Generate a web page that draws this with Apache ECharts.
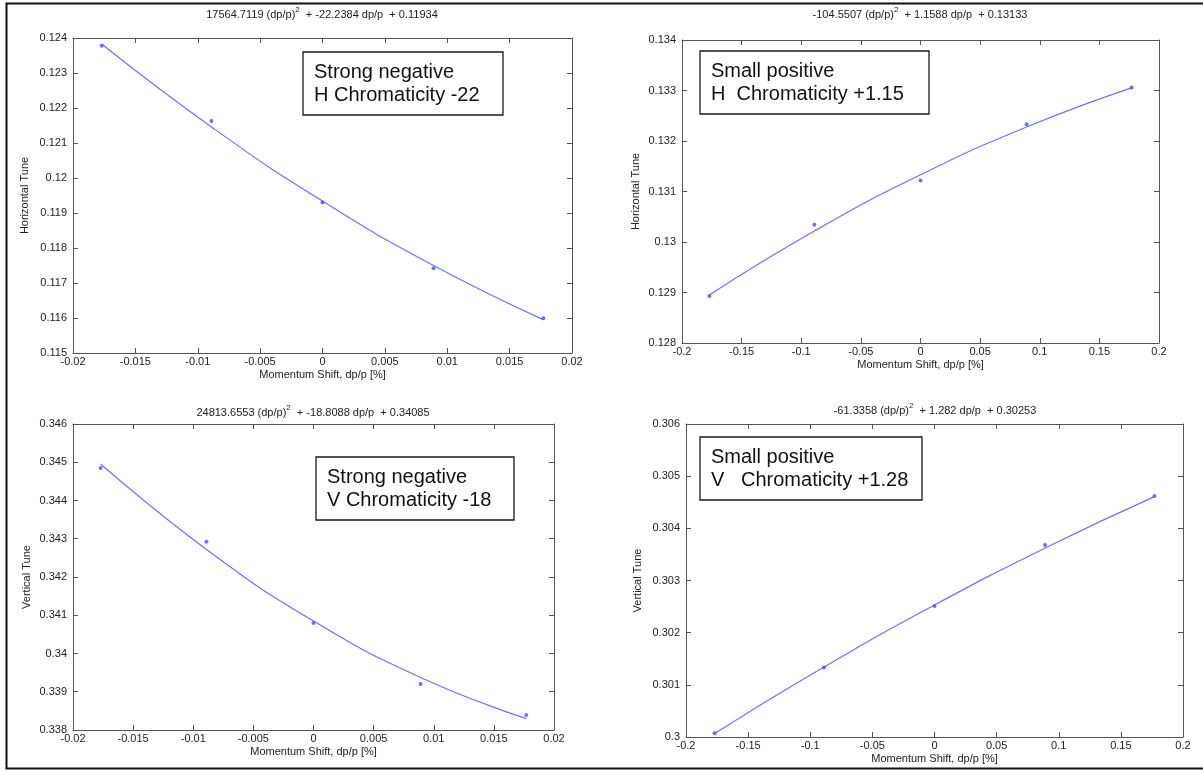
<!DOCTYPE html>
<html>
<head>
<meta charset="utf-8">
<script src="https://cdn.jsdelivr.net/npm/echarts@6/dist/echarts.min.js"></script>
<style>
  html, body { margin: 0; padding: 0; background: #fff; }
  #chart { width: 1203px; height: 771px; }
</style>
</head>
<body>
<div id="chart"></div>
<script>
// Momentum shift samples, dp/p in %
const dpNarrow = [-0.0177, -0.0089, 0, 0.0089, 0.0177];
const dpWide = [-0.177, -0.089, 0, 0.089, 0.177];

// Measured tunes at each momentum shift
const hTuneNeg = [0.12378, 0.12163, 0.11930, 0.11742, 0.11599];
const hTunePos = [0.12893, 0.13034, 0.13122, 0.13233, 0.13306];
const vTuneNeg = [0.34485, 0.34292, 0.34080, 0.33920, 0.33839];
const vTunePos = [0.30007, 0.30133, 0.30251, 0.30368, 0.30462];

// Quadratic fit values at the same momentum shifts
const hFitNeg = [0.123826, 0.121458, 0.11934, 0.117500, 0.115954];
const hFitPos = [0.128951, 0.130216, 0.13133, 0.132278, 0.133053];
const vFitNeg = [0.344956, 0.342721, 0.34085, 0.339373, 0.338298];
const vFitPos = [0.300069, 0.301340, 0.30253, 0.303622, 0.304607];

// Axis ranges: [min, max, step]
const xRangeNarrow = [-0.02, 0.02, 0.005];
const xRangeWide = [-0.2, 0.2, 0.05];
const yRangeHNeg = [0.115, 0.124, 0.001];
const yRangeHPos = [0.128, 0.134, 0.001];
const yRangeVNeg = [0.338, 0.346, 0.001];
const yRangeVPos = [0.300, 0.306, 0.001];

// Fit equations: text before and after the squared term
const fitEquations = [
  ['17564.7119 (dp/p)', '  + -22.2384 dp/p  + 0.11934'],
  ['-104.5507 (dp/p)', '  + 1.1588 dp/p  + 0.13133'],
  ['24813.6553 (dp/p)', '  + -18.8088 dp/p  + 0.34085'],
  ['-61.3358 (dp/p)', '  + 1.282 dp/p  + 0.30253']
];

// Annotation boxes
const notes = [
  'Strong negative\nH Chromaticity -22',
  'Small positive\nH  Chromaticity +1.15',
  'Strong negative\nV Chromaticity -18',
  'Small positive\nV   Chromaticity +1.28'
];

const xName = 'Momentum Shift, dp/p [%]';
const yNames = ['Horizontal Tune', 'Horizontal Tune', 'Vertical Tune', 'Vertical Tune'];

const FONT = '"Liberation Sans", Arial, Helvetica, sans-serif';
const AXIS_COLOR = '#555';
const TEXT_COLOR = '#222';

// Panel geometry (pixels)
const grids = [
  { left: 73, top: 38, width: 499, height: 315 },
  { left: 682, top: 40, width: 477, height: 303 },
  { left: 73, top: 424, width: 481, height: 306 },
  { left: 686, top: 424, width: 497, height: 313 }
];
const yNameGaps = [43, 41, 41, 43];
const titleCenters = [[322, 13], [920, 13], [313, 411], [935, 409]];
const noteBoxes = [
  { x: 303, y: 52, w: 200, h: 63 },
  { x: 700, y: 51, w: 229, h: 63 },
  { x: 316, y: 457, w: 198, h: 63 },
  { x: 700, y: 437, w: 222, h: 63 }
];

const panels = [
  { xs: dpNarrow, meas: hTuneNeg, fit: hFitNeg, xr: xRangeNarrow, yr: yRangeHNeg, xd: 3 },
  { xs: dpWide, meas: hTunePos, fit: hFitPos, xr: xRangeWide, yr: yRangeHPos, xd: 2 },
  { xs: dpNarrow, meas: vTuneNeg, fit: vFitNeg, xr: xRangeNarrow, yr: yRangeVNeg, xd: 3 },
  { xs: dpWide, meas: vTunePos, fit: vFitPos, xr: xRangeWide, yr: yRangeVPos, xd: 2 }
];

function trimNum(v, d) {
  return String(Number(v.toFixed(d)));
}

const option = {
  animation: false,
  backgroundColor: '#fff',
  textStyle: { fontFamily: FONT },
  grid: grids.map(g => Object.assign({ containLabel: false }, g)),
  xAxis: [],
  yAxis: [],
  series: [],
  graphic: []
};

panels.forEach((p, i) => {
  const lineStyle = { color: AXIS_COLOR, width: 1 };
  const baseX = {
    type: 'value', gridIndex: i,
    min: p.xr[0], max: p.xr[1], interval: p.xr[2],
    splitLine: { show: false },
    axisLine: { show: true, onZero: false, lineStyle },
    axisTick: { show: true, inside: true, length: 5, lineStyle }
  };
  const baseY = {
    type: 'value', gridIndex: i,
    min: p.yr[0], max: p.yr[1], interval: p.yr[2],
    splitLine: { show: false },
    axisLine: { show: true, onZero: false, lineStyle },
    axisTick: { show: true, inside: true, length: 5, lineStyle }
  };
  // bottom axis with labels
  option.xAxis.push(Object.assign({}, baseX, {
    position: 'bottom',
    name: xName, nameLocation: 'middle', nameGap: 16,
    nameTextStyle: { color: TEXT_COLOR, fontSize: 11, fontFamily: FONT },
    axisLabel: {
      color: TEXT_COLOR, fontSize: 11, fontFamily: FONT, margin: 3,
      showMinLabel: true, showMaxLabel: true,
      formatter: v => trimNum(v, p.xd)
    }
  }));
  // top edge of the box
  option.xAxis.push(Object.assign({}, baseX, {
    position: 'top', axisLabel: { show: false }
  }));
  // left axis with labels
  option.yAxis.push(Object.assign({}, baseY, {
    position: 'left',
    name: yNames[i], nameLocation: 'middle', nameGap: yNameGaps[i],
    nameTextStyle: { color: TEXT_COLOR, fontSize: 11, fontFamily: FONT },
    axisLabel: {
      color: TEXT_COLOR, fontSize: 11, fontFamily: FONT, margin: 6,
      showMinLabel: true, showMaxLabel: true,
      formatter: v => trimNum(v, 3)
    }
  }));
  // right edge of the box
  option.yAxis.push(Object.assign({}, baseY, {
    position: 'right', axisLabel: { show: false }
  }));

  const xi = i * 2, yi = i * 2;
  // quadratic fit curve
  option.series.push({
    type: 'line', xAxisIndex: xi, yAxisIndex: yi,
    data: p.xs.map((x, k) => [x, p.fit[k]]),
    smooth: 0.5,
    showSymbol: false, symbol: 'none',
    lineStyle: { color: '#7070ff', width: 1.2 },
    z: 2
  });
  // measured points
  option.series.push({
    type: 'scatter', xAxisIndex: xi, yAxisIndex: yi,
    data: p.xs.map((x, k) => [x, p.meas[k]]),
    symbol: 'circle', symbolSize: 4,
    itemStyle: { color: '#4b4bff' },
    z: 3
  });

  // fit equation above the panel
  const eq = fitEquations[i];
  option.graphic.push({
    type: 'text',
    x: titleCenters[i][0], y: titleCenters[i][1],
    style: {
      text: '{n|' + eq[0] + '}{s|2}{n|' + eq[1] + '}',
      align: 'center', verticalAlign: 'middle',
      rich: {
        n: { fontSize: 11, fontFamily: FONT, fill: TEXT_COLOR, lineHeight: 15, verticalAlign: 'bottom' },
        s: { fontSize: 8, fontFamily: FONT, fill: TEXT_COLOR, lineHeight: 15, verticalAlign: 'top' }
      }
    }
  });

  // annotation box
  const b = noteBoxes[i];
  option.graphic.push({
    type: 'rect',
    shape: { x: b.x, y: b.y, width: b.w, height: b.h },
    style: { fill: '#fff', stroke: '#1a1a1a', lineWidth: 1.3 },
    z: 10
  });
  option.graphic.push({
    type: 'text',
    x: b.x + 11, y: b.y + 9,
    style: {
      text: notes[i],
      fontSize: 20, fontFamily: FONT, fill: '#111',
      lineHeight: 23, align: 'left', verticalAlign: 'top'
    },
    z: 11
  });
});

// outer frame around the whole figure
option.graphic.push({
  type: 'rect',
  shape: { x: 6.5, y: 3.5, width: 1210, height: 765 },
  style: { fill: 'none', stroke: '#111', lineWidth: 2 },
  z: 20
});

const chart = echarts.init(document.getElementById('chart'), null, { renderer: 'canvas' });
chart.setOption(option);
</script>
</body>
</html>
